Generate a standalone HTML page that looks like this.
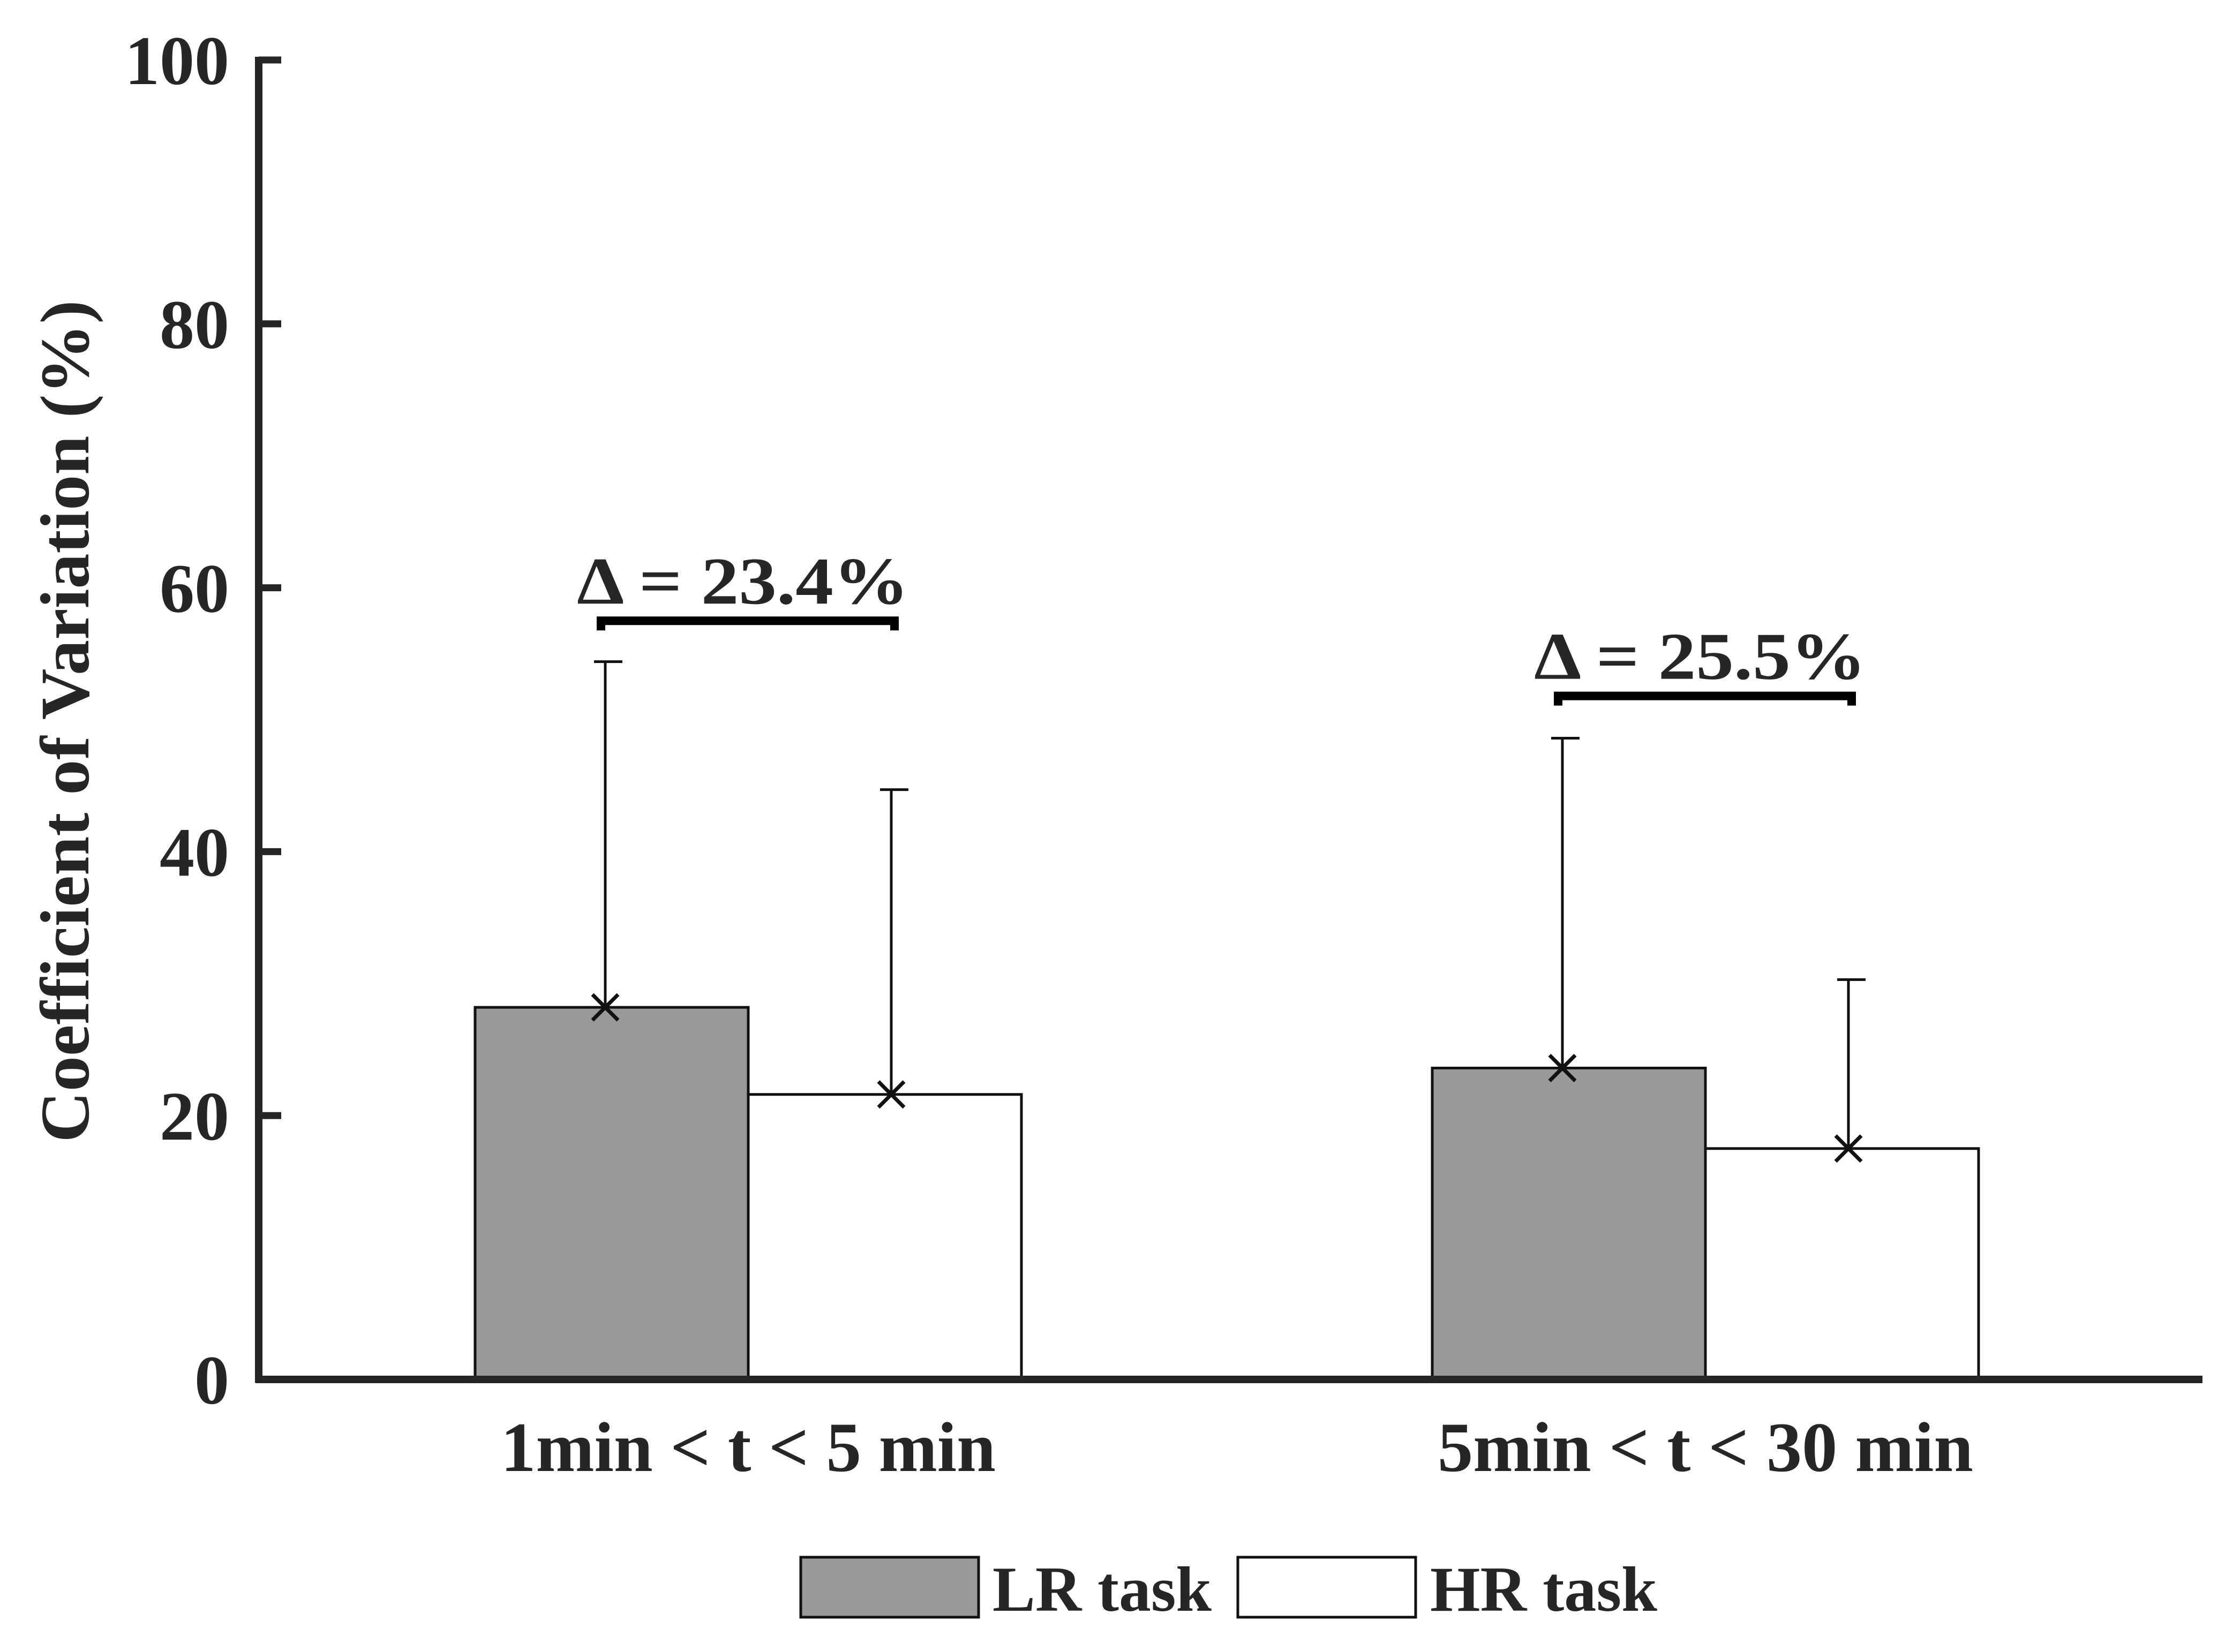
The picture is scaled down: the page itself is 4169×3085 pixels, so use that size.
<!DOCTYPE html>
<html><head><meta charset="utf-8"><style>
html,body{margin:0;padding:0;background:#fff;}
svg{display:block;}
text{font-family:"Liberation Serif",serif;font-weight:bold;fill:#262626;}
</style></head><body>
<svg id="chart" width="4169" height="3085" viewBox="0 0 4169 3085" xmlns="http://www.w3.org/2000/svg">
<g id="marks"></g>
<text transform="translate(165,1347) rotate(-90)" text-anchor="middle" font-size="130" textLength="1573" lengthAdjust="spacingAndGlyphs">Coefficient of Variation (%)</text>
<rect x="1495" y="2908" width="332" height="112" fill="#999" stroke="#111" stroke-width="5"/>
<text x="1853" y="3008" font-size="120" textLength="409" lengthAdjust="spacingAndGlyphs">LR task</text>
<rect x="2311" y="2908" width="332" height="112" fill="#fff" stroke="#111" stroke-width="5"/>
<text x="2670" y="3008" font-size="120" textLength="424" lengthAdjust="spacingAndGlyphs">HR task</text>
</svg>
<script>
const categories = ["1min < t < 5 min", "5min < t < 30 min"];
const lrValues = [28.2, 23.6];
const hrValues = [21.6, 17.5];
const lrErr = [54.4, 48.6];
const hrErr = [44.7, 30.3];
const yTicks = [0, 20, 40, 60, 80, 100];
const deltaLabels = ["Δ = 23.4%", "Δ = 25.5%"];
const bracketValues = [57.5, 51.8];

const NS = "http://www.w3.org/2000/svg";
const g = document.getElementById("marks");
const X0 = 483, X1 = 4112, Y0 = 2576, Ytop = 112;
const yS = v => Y0 - (v / 100) * (Y0 - Ytop);
const groupCenter = i => 1397 + i * 1787;
const BW = 510;
function mk(tag, attrs, parent) {
  const e = document.createElementNS(NS, tag);
  for (const k in attrs) e.setAttribute(k, attrs[k]);
  (parent || g).appendChild(e);
  return e;
}
yTicks.forEach(t => {
  const y = yS(t);
  const tk = mk("line", {x1: X0, x2: X0 + 42, y1: y, y2: y, stroke: "#262626", "stroke-width": 13});
  
  
  const tl = mk("text", {x: 428, y: y + 45, "text-anchor": "end", "font-size": 130});
  tl.textContent = t;
  
  
});
categories.forEach((c, i) => {
  const cx = groupCenter(i);
  const b1 = mk("rect", {x: cx - BW, y: yS(lrValues[i]), width: BW, height: Y0 - yS(lrValues[i]), fill: "#999", stroke: "#111", "stroke-width": 5});
  
  
  const b2 = mk("rect", {x: cx, y: yS(hrValues[i]), width: BW, height: Y0 - yS(hrValues[i]), fill: "#fff", stroke: "#111", "stroke-width": 5});
  
  
  [[cx - BW / 2 - 12, lrValues[i], lrErr[i]], [cx + BW / 2 + 12, hrValues[i], hrErr[i]]].forEach(([ex, v, e]) => {
    const el = mk("path", {d: `M${ex},${yS(v)}V${yS(e)}M${ex - 21},${yS(e)}H${ex + 32}`, stroke: "#111", "stroke-width": 5, fill: "none"});
    
    
    const yy = yS(v), s = 24;
    const xm = mk("path", {d: `M${ex - s},${yy - s}L${ex + s},${yy + s}M${ex - s},${yy + s}L${ex + s},${yy - s}`, stroke: "#111", "stroke-width": 7});
    
    
  });
  const by = yS(bracketValues[i]);
  const bx1 = cx - BW / 2 - 20, bx2 = cx + BW / 2 + 18;
  const br = mk("path", {d: `M${bx1},${by + 18}V${by}H${bx2}V${by + 18}`, stroke: "#000", "stroke-width": 16, fill: "none"});
  
  
  const dt = mk("text", {x: bx1 - 45, y: by - 32, "font-size": 125, textLength: 620, lengthAdjust: "spacingAndGlyphs", fill: "#000"});
  dt.textContent = deltaLabels[i];
  
  
  const xl = mk("text", {x: cx, y: 2747, "text-anchor": "middle", "font-size": 132, textLength: i ? 1000 : 924, lengthAdjust: "spacingAndGlyphs"});
  xl.textContent = c;
  
  
});
const ya = mk("line", {x1: X0, x2: X0, y1: Ytop - 6, y2: Y0 + 6, stroke: "#262626", "stroke-width": 14});


const xa = mk("line", {x1: X0 - 6, x2: X1, y1: Y0, y2: Y0, stroke: "#262626", "stroke-width": 14});


</script>
</body></html>
